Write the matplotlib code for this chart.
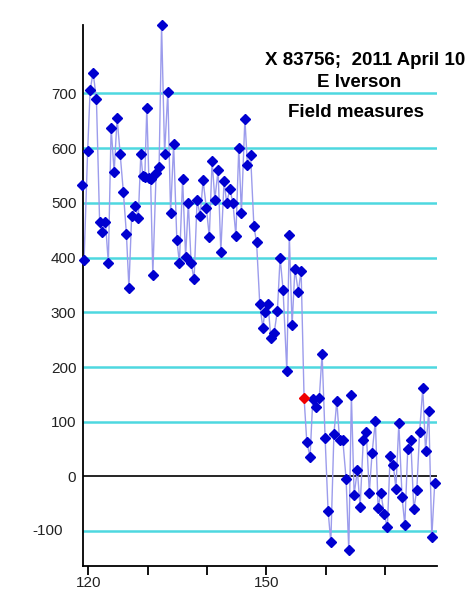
import matplotlib
matplotlib.use("Agg")
import matplotlib.pyplot as plt
from matplotlib.transforms import offset_copy

plt.rcParams['font.family'] = ['Liberation Sans', 'DejaVu Sans']

# day of year and field measure values
days = [118.89, 119.27, 119.87, 120.29, 120.79, 121.35, 121.89, 122.31, 122.87, 123.36,
        123.83, 124.34, 124.84, 125.35, 125.90, 126.41, 126.83, 127.29, 127.88, 128.41,
        128.84, 129.17, 129.51, 129.85, 130.19, 130.49, 130.86, 131.42, 131.92, 132.34,
        132.85, 133.39, 133.86, 134.37, 134.91, 135.35, 135.89, 136.39, 136.85, 137.32,
        137.82, 138.33, 138.84, 139.34, 139.90, 140.39, 140.86, 141.32, 141.87, 142.33,
        142.88, 143.31, 143.86, 144.37, 144.87, 145.36, 145.80, 146.39, 146.81, 147.35,
        147.91, 148.36, 148.90, 149.41, 149.75, 150.30, 150.76, 151.32, 151.87, 152.33,
        152.83, 153.46, 153.88, 154.35, 154.82, 155.40, 155.87, 156.37, 156.83, 157.38,
        157.84, 158.40, 158.94, 159.41, 159.92, 160.42, 160.88, 161.40, 161.89, 162.36,
        162.90, 163.46, 163.91, 164.35, 164.81, 165.36, 165.82, 166.36, 166.86, 167.37,
        167.84, 168.40, 168.85, 169.33, 169.86, 170.42, 170.88, 171.42, 171.86, 172.35,
        172.90, 173.36, 173.86, 174.37, 174.87, 175.38, 175.85, 176.39, 176.86, 177.40,
        177.91, 178.41]
values = [533, 395, 595, 706, 738, 690, 465, 447, 465, 390,
          637, 557, 655, 590, 519, 443, 345, 476, 494, 473,
          590, 549, 547, 674, 546, 543, 369, 555, 565, 825,
          590, 703, 481, 607, 433, 390, 544, 401, 500, 390,
          360, 506, 476, 541, 490, 438, 577, 506, 560, 411,
          540, 500, 525, 500, 440, 601, 482, 654, 570, 587,
          457, 428, 315, 272, 300, 315, 253, 262, 303, 400,
          341, 193, 441, 276, 379, 338, 376, 144, 63, 36,
          141, 127, 144, 224, 70, -63, -120, 77, 138, 66,
          67, -5, -135, 149, -33, 11, -56, 67, 82, -30,
          43, 102, -57, -30, -68, -93, 37, 21, -22, 97,
          -38, -89, 51, 66, -60, -25, 81, 162, 46, 119,
          -111, -11]
flagged = 77  # the one red point

grid_levels = [-100, 100, 200, 300, 400, 500, 600, 700]
ytick_vals = [0, 100, 200, 300, 400, 500, 600, 700]
xtick_vals = [120, 130, 140, 150, 160, 170]
xtick_labels = ['120', '', '', '150', '', '']
title_lines = ['X 83756;  2011 April 10', 'E Iverson', 'Field measures']

fig = plt.figure(figsize=(4.72, 5.94), dpi=100)
ax = fig.add_axes([0.175, 0.0471, 0.751, 0.9108])

for g in grid_levels:
    ax.axhline(g, color='#4ED8E0', lw=1.8, zorder=1)
ax.axhline(0, color='black', lw=1.2, zorder=1)

ax.plot(days, values, color='#9C9CEC', lw=1.0, zorder=2)
bx = [d for i, d in enumerate(days) if i != flagged]
by = [v for i, v in enumerate(values) if i != flagged]
ax.plot(bx, by, ls='none', marker='D', ms=5.2, color='#0000D0', mec='#0000D0',
        zorder=3, clip_on=False)
ax.plot([days[flagged]], [values[flagged]], ls='none', marker='D', ms=5.2,
        color='#F00000', mec='#F00000', zorder=4, clip_on=False)

ax.set_xlim(119.02, 178.8)
ax.set_ylim(-163.6, 825)

for s in ['top', 'right']:
    ax.spines[s].set_visible(False)
ax.spines['left'].set_linewidth(1.3)
ax.spines['bottom'].set_linewidth(1.3)

ax.set_xticks(xtick_vals)
ax.set_xticklabels(xtick_labels)
ax.set_yticks(ytick_vals)
ax.tick_params(axis='x', direction='out', length=6.5, width=1.3, labelsize=11,
               pad=1.0, colors='black', labelcolor='#222222')
ax.tick_params(axis='y', length=0, labelsize=11, pad=4.5, labelcolor='#222222')

# the -100 label sits further left in the original
ax.text(0, -100, '-100', fontsize=11, color='#222222', ha='right', va='center',
        transform=offset_copy(ax.get_yaxis_transform(), fig=fig, x=-19.5, y=0, units='dots'))

fig.text(0.774, 0.8906, title_lines[0], fontsize=13.5, fontweight='bold', ha='center', va='baseline')
fig.text(0.7606, 0.853, title_lines[1], fontsize=13.5, fontweight='bold', ha='center', va='baseline')
fig.text(0.754, 0.8035, title_lines[2], fontsize=13.5, fontweight='bold', ha='center', va='baseline')

fig.savefig('out.png', dpi=100, facecolor='white')
